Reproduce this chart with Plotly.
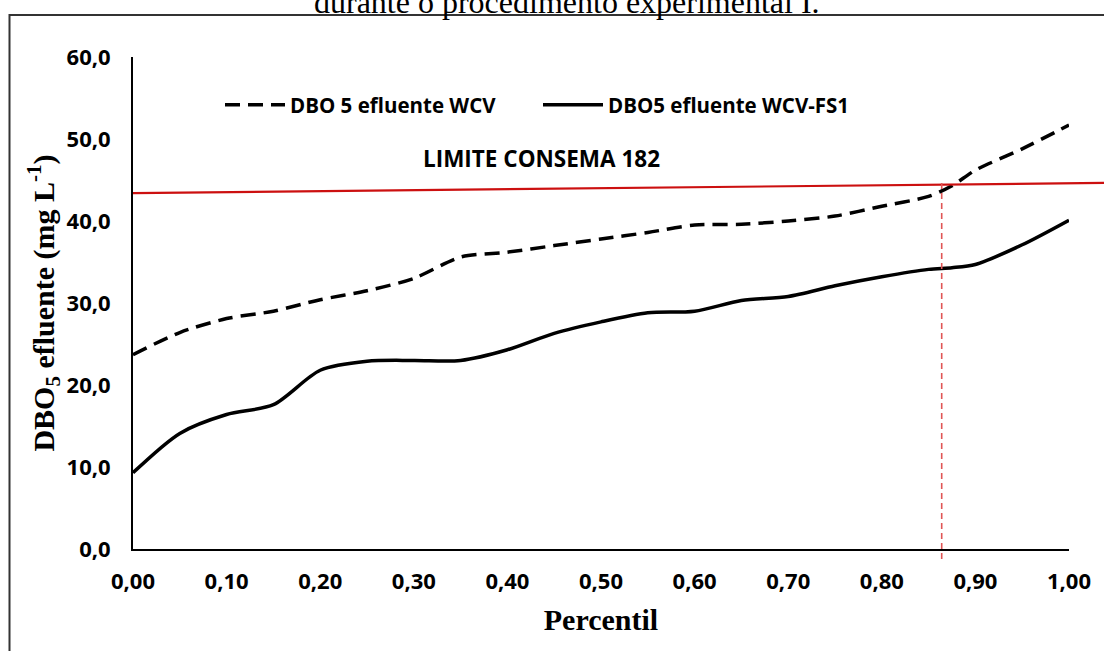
import plotly.graph_objects as go

# Percentile positions
percentil = [0.00, 0.05, 0.10, 0.15, 0.20, 0.25, 0.30, 0.35, 0.40, 0.45, 0.50,
             0.55, 0.60, 0.65, 0.70, 0.75, 0.80, 0.85, 0.875, 0.90, 0.95, 1.00]

# DBO5 effluent, WCV system (mg/L)
dbo_wcv = [23.7, 26.4, 28.1, 29.0, 30.4, 31.5, 33.0, 35.6, 36.2, 37.0, 37.8,
           38.6, 39.5, 39.6, 40.0, 40.6, 41.8, 43.0, 44.3, 46.2, 48.8, 51.7]

# DBO5 effluent, WCV-FS1 system (mg/L)
dbo_wcv_fs1 = [9.3, 14.1, 16.4, 17.6, 21.8, 22.9, 23.0, 23.0, 24.3, 26.3, 27.7,
               28.8, 29.0, 30.3, 30.8, 32.1, 33.2, 34.1, 34.3, 34.7, 37.1, 40.1]

# CONSEMA 182 limit line (start / end levels) and the percentile where WCV crosses it
limite_inicio = 43.4
limite_fim = 44.6
percentil_limite = 0.864

x_ticks = [0.0, 0.1, 0.2, 0.3, 0.4, 0.5, 0.6, 0.7, 0.8, 0.9, 1.0]
y_ticks = [0, 10, 20, 30, 40, 50, 60]

W, H = 1104, 651
ML, MR, MT, MB = 133, 35, 57, 102
plot_w = W - ML - MR
plot_h = H - MT - MB

def px_to_paper_x(px):
    return (px - ML) / plot_w

def px_to_paper_y(py):
    return (H - MB - py) / plot_h

tick_font = dict(family="Open Sans", size=22, color="#000000", weight=700)
serif_bold = dict(family="Liberation Serif", size=30, color="#000000", weight=700)

fig = go.Figure()

fig.add_trace(go.Scatter(
    x=percentil, y=dbo_wcv, mode="lines", name="DBO 5 efluente WCV",
    line=dict(color="#000000", width=3.5, dash="15px,8px", shape="spline", smoothing=0.8),
    legend="legend",
))
fig.add_trace(go.Scatter(
    x=percentil, y=dbo_wcv_fs1, mode="lines", name="DBO5 efluente WCV-FS1",
    line=dict(color="#000000", width=3.5, shape="spline", smoothing=0.8),
    legend="legend2",
))

# limit line, running past the right end of the axis
fig.add_shape(type="line", xref="paper", yref="y",
              x0=0, x1=px_to_paper_x(W + 5), y0=limite_inicio, y1=limite_fim + 0.05,
              line=dict(color="#CC1010", width=2.2))

# vertical marker at the crossing percentile
fig.add_shape(type="line", xref="x", yref="paper",
              x0=percentil_limite, x1=percentil_limite,
              y0=px_to_paper_y(559), y1=px_to_paper_y(182),
              line=dict(color="#E05555", width=1.6, dash="6px,4px"))

# outer frame
fig.add_shape(type="rect", xref="paper", yref="paper",
              x0=px_to_paper_x(9.5), x1=px_to_paper_x(W + 20),
              y0=px_to_paper_y(H + 20), y1=px_to_paper_y(15),
              line=dict(color="#333333", width=2), fillcolor="rgba(0,0,0,0)", layer="above")

fig.add_annotation(text="LIMITE CONSEMA 182", xref="paper", yref="paper",
                   x=px_to_paper_x(541), y=px_to_paper_y(158),
                   xanchor="center", yanchor="middle", showarrow=False,
                   font=dict(family="Open Sans", size=22.5, color="#000000", weight=700))

fig.add_annotation(text="durante o procedimento experimental I.", xref="paper", yref="paper",
                   x=px_to_paper_x(567), y=px_to_paper_y(22),
                   xanchor="center", yanchor="bottom", showarrow=False,
                   font=dict(family="Liberation Serif", size=32, color="#000000"))

legend_font = dict(family="Open Sans", size=20.5, color="#000000", weight=700)
fig.update_layout(
    width=W, height=H,
    margin=dict(l=ML, r=MR, t=MT, b=MB),
    paper_bgcolor="#FFFFFF", plot_bgcolor="#FFFFFF",
    separators=", ",
    showlegend=True,
    legend=dict(x=px_to_paper_x(220), y=px_to_paper_y(105), xanchor="left", yanchor="middle",
                orientation="h", font=legend_font, bgcolor="rgba(0,0,0,0)", itemwidth=60),
    legend2=dict(x=px_to_paper_x(538), y=px_to_paper_y(105), xanchor="left", yanchor="middle",
                 orientation="h", font=legend_font, bgcolor="rgba(0,0,0,0)", itemwidth=60),
    xaxis=dict(range=[0, 1.0], tickvals=x_ticks, tickformat=".2f",
               showgrid=False, zeroline=False, showline=True, linecolor="#000000", linewidth=2,
               ticks="", tickfont=tick_font, ticklabelstandoff=12,
               title=dict(text="Percentil", font=serif_bold, standoff=15)),
    yaxis=dict(range=[0, 60], tickvals=y_ticks, tickformat=".1f",
               showgrid=False, zeroline=False, showline=True, linecolor="#000000", linewidth=2,
               ticks="", tickfont=tick_font, ticklabelstandoff=16,
               title=dict(text="DBO<sub>5</sub> efluente (mg L<sup>-1</sup>)", font=serif_bold, standoff=3)),
)

fig.write_html("out.html")
